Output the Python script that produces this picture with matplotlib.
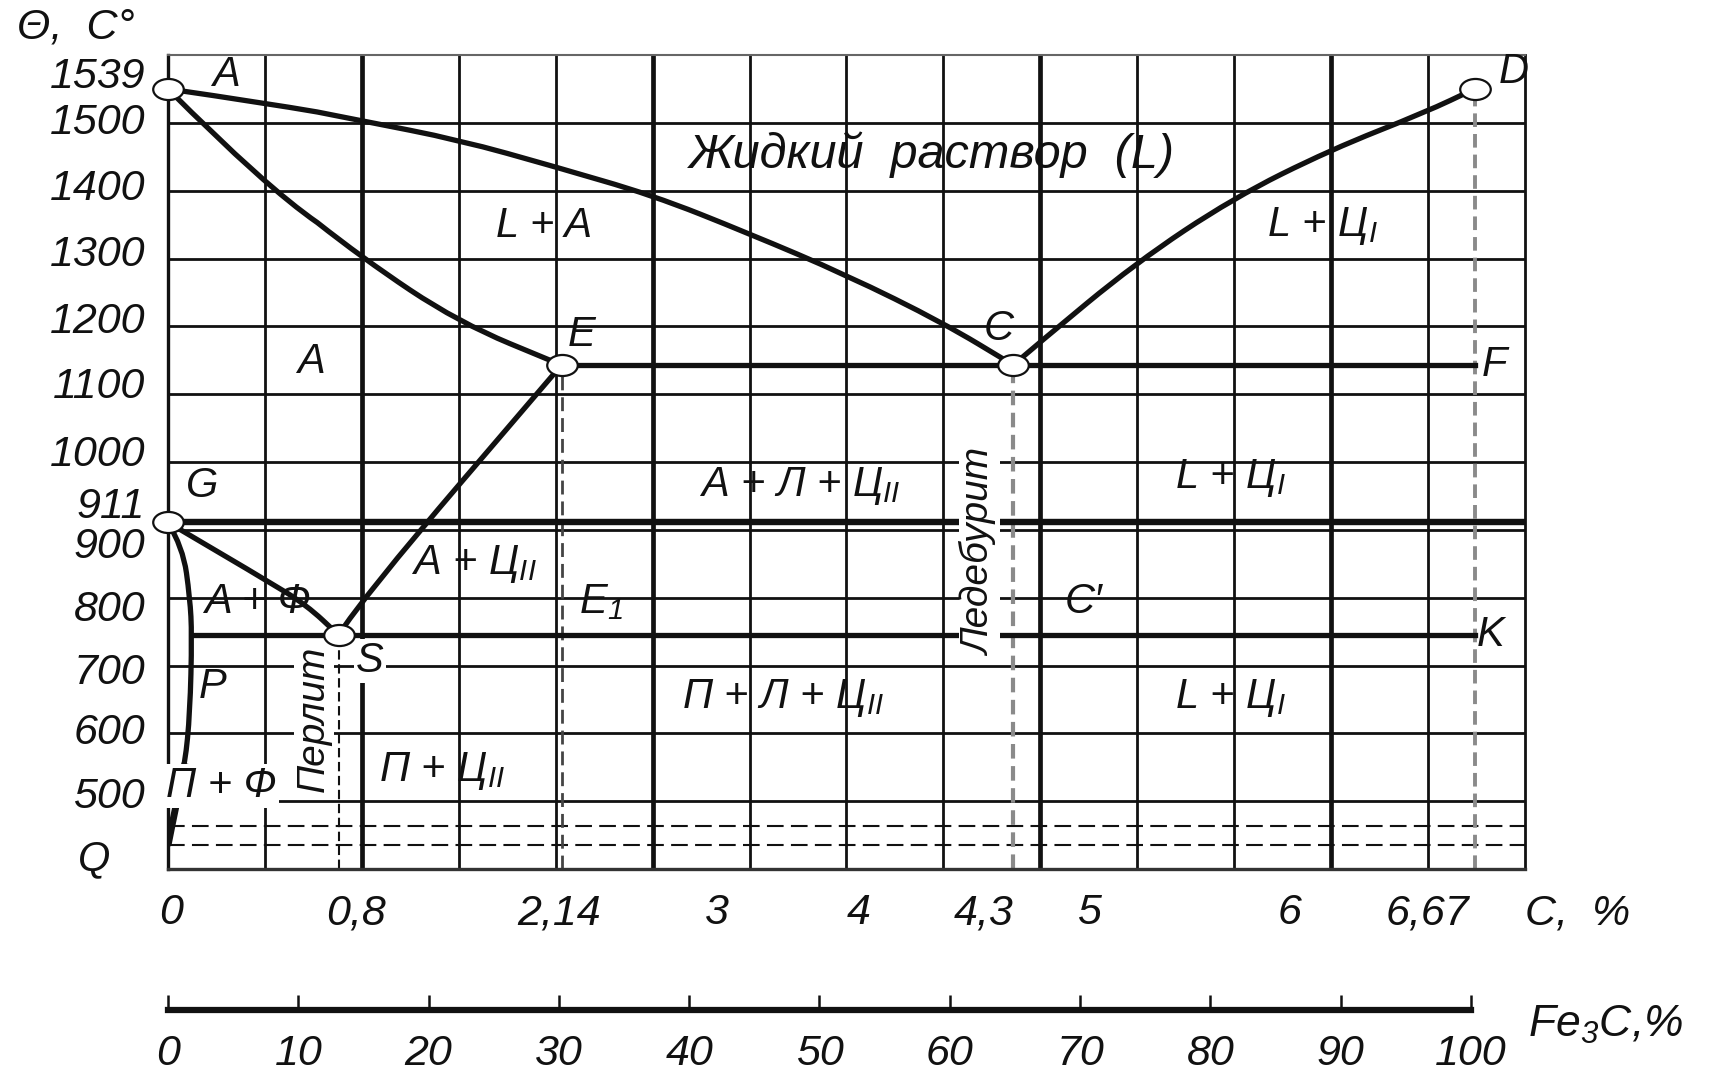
import numpy as np
import matplotlib.pyplot as plt
from matplotlib.path import Path
from matplotlib.patches import PathPatch
from matplotlib.transforms import Affine2D

plt.rcParams['font.family'] = ['Liberation Sans', 'DejaVu Sans']
plt.rcParams['font.style'] = 'italic'
plt.rcParams['mathtext.fontset'] = 'custom'
plt.rcParams['mathtext.it'] = 'Liberation Sans:italic'
plt.rcParams['mathtext.rm'] = 'Liberation Sans:italic'
plt.rcParams['mathtext.default'] = 'it'

INK = '#111111'
FS = 31

# the drawing is schematic: the carbon axis is stretched piecewise
C_ANCHOR = [0.0, 0.8, 2.14, 4.3, 6.67, 6.93]
CELL_ANCHOR = [0.0, 1.76, 4.06, 8.72, 13.48, 14.0]

# key points (C %, temperature) as drawn
A = (0.0, 1550)
E = (2.14, 1143)
C = (4.3, 1143)
D = (6.67, 1550)
F = (6.67, 1143)
G = (0.0, 911)
S = (0.8, 745)
P = (0.112, 745)
K = (6.67, 745)
Q = (0.0, 435)
T_DASH = 464

# phase boundaries
ac_c = [0.0, 0.46, 0.94, 1.52, 2.105, 2.57, 3.035, 3.5, 3.966, 4.3]
ac_t = [1550, 1529, 1503, 1475, 1435, 1394, 1337, 1276, 1205, 1143]
ae_c = [0.0, 0.46, 0.94, 1.52, 2.14]
ae_t = [1550, 1405, 1301, 1206, 1143]
cd_c = [4.3, 4.43, 4.927, 5.43, 5.928, 6.42, 6.67]
cd_t = [1143, 1175, 1293, 1389, 1460, 1516, 1550]
gs_c = [0.0, 0.46, 0.65, 0.8]
gs_t = [911, 826, 789, 745]
se_c = [0.8, 0.94, 2.14]
se_t = [745, 799, 1143]
gpq_c = [0.0, 0.07, 0.103, 0.112, 0.103, 0.08, 0.042, 0.0]
gpq_t = [911, 874, 799, 745, 630, 556, 501, 435]

temp_ticks = [1539, 1500, 1400, 1300, 1200, 1100, 1000, 911, 900, 800, 700, 600, 500]
carbon_ticks = [0, 0.8, 2.14, 3, 4, 4.3, 5, 6, 6.67]
carbon_labels = ['0', '0,8', '2,14', '3', '4', '4,3', '5', '6', '6,67']
fe3c_ticks = [0, 10, 20, 30, 40, 50, 60, 70, 80, 90, 100]

region_names = ['Жидкий  раствор  (L)', 'L + A', r'L + Ц$_{I}$', 'A',
                r'A + Л + Ц$_{II}$', r'L + Ц$_{I}$', r'A + Ц$_{II}$', 'A + Ф',
                r'E$_1$', 'C′', r'П + Л + Ц$_{II}$', r'L + Ц$_{I}$',
                'П + Ф', r'П + Ц$_{II}$']

# layout (px shifts / label positions)
temp_shift = [19, 0, 2, 4, 4, 7, 7, 15, -17, -12, -7, 0, 4]
carbon_shift = [3, 17, -2, -24, -92, -30, -61, -55, -47]
region_pos = [(3.91, 1453), (2.035, 1348), (5.89, 1348), (0.67, 1147),
              (3.28, 964), (5.415, 977), (1.615, 850), (0.42, 793),
              (2.33, 793), (4.66, 793), (3.20, 652), (5.415, 652),
              (0.25, 522), (1.42, 545)]
point_labels = [('A', A, (58, 14)), ('E', E, (20, 30)), ('C', C, (-15, 36)),
                ('D', D, (39, 17)), ('F', F, (20, 0)), ('K', K, (16, 0)),
                ('G', G, (34, 36)), ('S', S, (31, -26)), ('P', P, (21, -52)),
                ('Q', Q, (-74, -14))]

fig = plt.figure(figsize=(17.32, 10.75), dpi=100)
ax = fig.add_axes([168 / 1732, 1 - 869 / 1075, 1357 / 1732, 814 / 1075])


def fwd(c):
    return np.interp(c, C_ANCHOR, CELL_ANCHOR)


def inv(g):
    return np.interp(g, CELL_ANCHOR, C_ANCHOR)


ax.set_xscale('function', functions=(fwd, inv))
ax.set_xlim(0, C_ANCHOR[-1])
ax.set_ylim(400, 1600)
ax.set_xticks([])
ax.set_yticks([])


def smooth(xs, ys, **kw):
    # quadratic b-spline through the read points, so the curve has no corners
    verts = [(xs[0], ys[0])]
    codes = [Path.MOVETO]
    for i in range(1, len(xs) - 1):
        verts += [(xs[i], ys[i]), ((xs[i] + xs[i + 1]) / 2, (ys[i] + ys[i + 1]) / 2)]
        codes += [Path.CURVE3, Path.CURVE3]
    verts.append((xs[-1], ys[-1]))
    codes.append(Path.LINETO)
    ax.add_patch(PathPatch(Path(verts, codes), fill=False, **kw))


# grid of the drawing
for g in range(1, 14):
    ax.axvline(inv(g), color=INK, lw=3.4 if g in (2, 5, 9, 12) else 2.0, zorder=1)
for t in range(500, 1600, 100):
    ax.axhline(t, color=INK, lw=2.0, zorder=1)

for side, w, col in [('left', 2.4, INK), ('bottom', 2.4, '#333333'),
                     ('right', 2.0, INK), ('top', 1.5, '#666666')]:
    ax.spines[side].set_linewidth(w)
    ax.spines[side].set_color(col)

# dashed construction lines
for t in (T_DASH, Q[1]):
    ax.axhline(t, color=INK, lw=1.5, ls=(0, (8, 3.5)), zorder=2)
ax.plot([S[0], S[0]], [400, S[1]], color=INK, lw=1.5, ls=(0, (4.5, 2.2)), zorder=2)
ax.plot([E[0], E[0]], [400, E[1]], color='#444444', lw=2.0, ls=(0, (5, 2.5)), zorder=2)
ax.plot([C[0], C[0]], [400, C[1]], color='#8a8a8a', lw=3.0, ls=(0, (3.5, 1.8)), zorder=2)
ax.plot([D[0], D[0]], [400, D[1]], color='#8a8a8a', lw=2.8, ls=(0, (3.5, 1.8)), zorder=2)

# phase lines
kw = dict(edgecolor=INK, lw=3.8, capstyle='round', zorder=3)
smooth(ac_c, ac_t, **kw)
smooth(ae_c, ae_t, **kw)
smooth(cd_c, cd_t, **kw)
smooth(gs_c, gs_t, **kw)
smooth(se_c, se_t, **kw)
smooth(gpq_c, gpq_t, **kw)
smooth(gpq_c[-3:], gpq_t[-3:], edgecolor=INK, lw=5, zorder=3)
ax.plot([E[0], F[0]], [E[1], F[1]], color=INK, lw=3.8, zorder=3)
ax.plot([P[0], K[0]], [P[1], K[1]], color=INK, lw=3.8, zorder=3)
ax.plot([G[0], C_ANCHOR[-1]], [G[1], G[1]], color=INK, lw=4.6, zorder=3)

# open markers (slightly flattened like in the drawing)
ell = Path.unit_circle().transformed(Affine2D().scale(1.45, 1.0))
mx = [A[0], E[0], C[0], D[0], G[0], S[0]]
my = [A[1], E[1], C[1], D[1], G[1], S[1]]
ax.plot(mx, my, ls='none', marker=ell, ms=22, mfc='white', mec=INK, mew=1.6,
        zorder=6, clip_on=False)

# region labels
white = dict(fc='white', ec='none', pad=1.5)
for name, (x, y) in zip(region_names, region_pos):
    bb = white if name == 'П + Ф' else None
    fs = FS + 4 if name.startswith('Жидкий') else FS - 1
    ax.text(x, y, name, fontsize=fs, ha='center', va='center', color=INK,
            zorder=5, bbox=bb)
ax.text(0.686, 622, 'Перлит', rotation=90, fontsize=FS - 3, ha='center',
        va='center', color=INK, zorder=5, bbox=white)
ax.text(4.14, 867, 'Ледебурит', rotation=90, fontsize=FS - 3, ha='center',
        va='center', color=INK, zorder=5, bbox=white)

for name, (x, y), (dx, dy) in point_labels:
    bb = white if name == 'S' else None
    ax.annotate(name, xy=(x, y), xytext=(dx, dy), textcoords='offset pixels',
                fontsize=FS - 1, ha='center', va='center', color=INK,
                zorder=5, bbox=bb, annotation_clip=False)

# axis labels of the diagram
for t, dy in zip(temp_ticks, temp_shift):
    ax.annotate(str(t), xy=(0, t), xycoords=('axes fraction', 'data'),
                xytext=(-23, dy), textcoords='offset pixels', fontsize=FS,
                ha='right', va='center', color=INK)
for c, lab, dx in zip(carbon_ticks, carbon_labels, carbon_shift):
    ax.annotate(lab, xy=(c, 0), xycoords=('data', 'axes fraction'),
                xytext=(dx, -44), textcoords='offset pixels', fontsize=FS,
                ha='center', va='center', color=INK)
ax.annotate('C,  %', xy=(1, 0), xycoords='axes fraction', xytext=(0, -44),
            textcoords='offset pixels', fontsize=FS, ha='left', va='center',
            color=INK)
fig.text(17 / 1732, 1 - 28 / 1075, 'Θ,  C°', fontsize=FS, ha='left',
         va='center', color=INK)

# Fe3C scale under the diagram
ax2 = fig.add_axes([168 / 1732, 1 - 1010 / 1075, (1471 - 168) / 1732, 0.0005])
ax2.set_xlim(0, 100)
ax2.set_xticks(fe3c_ticks)
ax2.set_xticklabels([str(v) for v in fe3c_ticks], fontsize=FS, color=INK)
ax2.set_yticks([])
ax2.tick_params(axis='x', direction='in', length=11, width=1.8, pad=17, colors=INK)
for side in ('left', 'right', 'top'):
    ax2.spines[side].set_visible(False)
ax2.spines['bottom'].set_linewidth(4.5)
ax2.spines['bottom'].set_color(INK)
ax2.patch.set_alpha(0)
fig.text(1528 / 1732, 1 - 1025 / 1075, 'Fe$_3$C,%', fontsize=FS + 1, ha='left',
         va='center', color=INK)

fig.savefig('out.png', dpi=100, facecolor='white')
